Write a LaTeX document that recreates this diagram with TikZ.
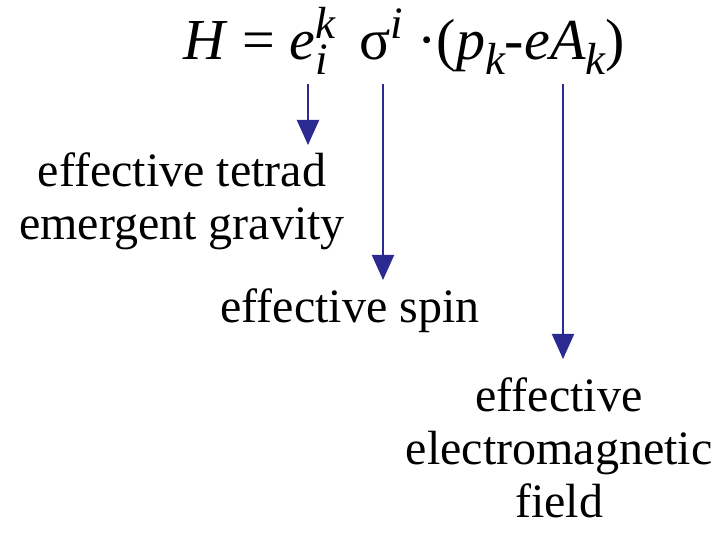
\documentclass[tikz,border=0pt]{standalone}
\usepackage{fontspec}
\setmainfont{Liberation Serif}
\usepackage{tikz}
\usetikzlibrary{positioning,arrows.meta,calc}
\definecolor{navy}{RGB}{42,42,145}
\newcommand{\supidx}[1]{\raisebox{21pt}{\fontsize{45}{45}\selectfont\itshape #1}}
\newcommand{\subidx}[1]{\raisebox{-15pt}{\fontsize{45}{45}\selectfont\itshape #1}}

\begin{document}
\begin{tikzpicture}[
    x=1pt, y=1pt,
    lbl/.style={inner sep=0pt, align=center, anchor=north, font=\fontsize{48}{53}\selectfont},
    arr/.style={-{Triangle[length=25pt, width=22pt]}, line width=2pt, navy}
  ]
    \useasboundingbox (0,0) rectangle (725,-534);

    % the Hamiltonian
    \node[inner sep=0pt, anchor=base west, font=\fontsize{58}{62}\selectfont] (eq) at (183,-60)
      {\textit{H} = \textit{e}\rlap{\subidx{i}}\supidx{k}\hspace{24pt}σ\supidx{i} ·(\textit{p}\subidx{k}-\textit{eA}\subidx{k})};

    % where the arrows start
    \coordinate (tetr) at (308,-84);
    \coordinate (spn) at (383,-84);
    \coordinate (emf) at (563,-84);

    % labels
    \node[lbl] (tetrad) at (182,-153) {effective tetrad\\emergent gravity};
    \node[lbl] (spin) at (350,-289) {effective spin};
    \node[lbl] (field) at (559,-378) {effective\\electromagnetic\\field};

    \draw[arr, shorten >=8pt] (tetr) -- (tetr |- tetrad.north);
    \draw[arr, shorten >=9pt] (spn) -- (spn |- spin.north);
    \draw[arr, shorten >=19pt] (emf) -- (emf |- field.north);
\end{tikzpicture}
\end{document}
